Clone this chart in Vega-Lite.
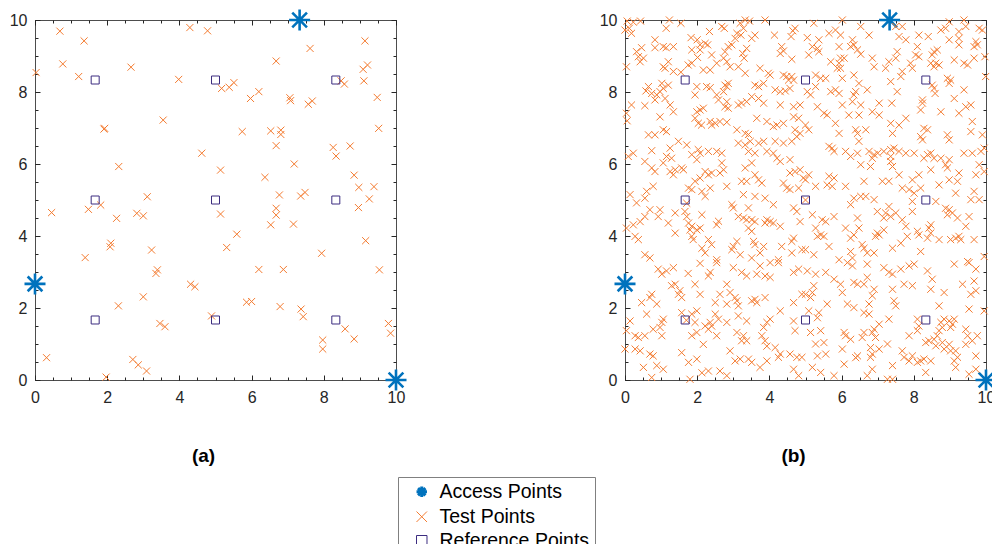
{
"$schema":"https://vega.github.io/schema/vega-lite/v6.json",
"padding":{"left":8,"top":3,"right":0,"bottom":0},
"autosize":{"type":"pad"},
"datasets":{
"access":[{"x":0,"y":2.67},{"x":7.33,"y":10},{"x":10,"y":0}],
"refs":[{"x":1.667,"y":1.667},{"x":5,"y":1.667},{"x":8.333,"y":1.667},{"x":1.667,"y":5},{"x":5,"y":5},{"x":8.333,"y":5},{"x":1.667,"y":8.333},{"x":5,"y":8.333},{"x":8.333,"y":8.333}],
"testA":[{"x":0.69,"y":9.69},{"x":1.36,"y":9.42},{"x":0.03,"y":8.54},{"x":0.77,"y":8.78},{"x":1.21,"y":8.43},{"x":2.66,"y":8.69},{"x":1.91,"y":6.97},{"x":1.93,"y":6.99},{"x":3.55,"y":7.22},{"x":2.32,"y":5.93},{"x":3.11,"y":5.09},{"x":3.98,"y":8.35},{"x":4.29,"y":9.79},{"x":4.78,"y":9.7},{"x":4.62,"y":6.3},{"x":5.14,"y":5.83},{"x":9.14,"y":9.42},{"x":7.62,"y":9.21},{"x":6.68,"y":8.86},{"x":9.09,"y":8.63},{"x":9.21,"y":8.75},{"x":9.11,"y":8.31},{"x":8.48,"y":8.31},{"x":8.57,"y":8.22},{"x":5.17,"y":8.1},{"x":5.38,"y":8.13},{"x":5.51,"y":8.26},{"x":5.97,"y":7.82},{"x":6.2,"y":8.01},{"x":7.06,"y":7.84},{"x":7.08,"y":7.76},{"x":7.57,"y":7.66},{"x":7.68,"y":7.75},{"x":9.48,"y":7.85},{"x":9.52,"y":6.99},{"x":5.74,"y":6.9},{"x":6.53,"y":6.92},{"x":6.81,"y":6.94},{"x":6.81,"y":6.82},{"x":6.68,"y":6.51},{"x":8.26,"y":6.46},{"x":8.73,"y":6.5},{"x":8.34,"y":6.22},{"x":7.18,"y":6.0},{"x":6.37,"y":5.63},{"x":8.84,"y":5.69},{"x":8.97,"y":5.35},{"x":9.39,"y":5.37},{"x":6.77,"y":5.14},{"x":7.36,"y":5.11},{"x":7.48,"y":5.21},{"x":9.26,"y":5.03},{"x":0.46,"y":4.65},{"x":1.48,"y":4.74},{"x":1.82,"y":4.86},{"x":2.26,"y":4.49},{"x":2.82,"y":4.63},{"x":3.0,"y":4.56},{"x":2.1,"y":3.8},{"x":2.08,"y":3.7},{"x":1.39,"y":3.4},{"x":3.23,"y":3.61},{"x":3.39,"y":3.06},{"x":3.35,"y":2.96},{"x":4.31,"y":2.66},{"x":4.43,"y":2.59},{"x":3.0,"y":2.31},{"x":2.31,"y":2.06},{"x":4.89,"y":1.78},{"x":3.46,"y":1.57},{"x":3.6,"y":1.48},{"x":0.32,"y":0.62},{"x":2.71,"y":0.57},{"x":2.86,"y":0.42},{"x":3.09,"y":0.25},{"x":1.97,"y":0.08},{"x":5.14,"y":4.61},{"x":6.68,"y":4.77},{"x":6.68,"y":4.58},{"x":6.53,"y":4.31},{"x":7.16,"y":4.33},{"x":8.96,"y":4.79},{"x":5.59,"y":4.05},{"x":5.31,"y":3.68},{"x":9.16,"y":3.87},{"x":7.94,"y":3.52},{"x":6.2,"y":3.07},{"x":6.88,"y":3.07},{"x":9.54,"y":3.06},{"x":5.86,"y":2.16},{"x":6.0,"y":2.18},{"x":6.79,"y":2.04},{"x":7.37,"y":1.97},{"x":7.43,"y":1.76},{"x":8.59,"y":1.42},{"x":8.84,"y":1.14},{"x":7.97,"y":1.11},{"x":7.97,"y":0.86},{"x":9.79,"y":1.57},{"x":9.85,"y":1.3}],
"testB":[{"x":0.06,"y":9.97},{"x":0.23,"y":9.94},{"x":0.12,"y":9.77},{"x":0.0,"y":9.72},{"x":0.18,"y":9.63},{"x":0.43,"y":9.97},{"x":1.23,"y":10.0},{"x":1.14,"y":9.77},{"x":1.55,"y":9.91},{"x":2.34,"y":9.68},{"x":2.68,"y":9.82},{"x":2.75,"y":9.77},{"x":3.19,"y":9.91},{"x":3.33,"y":10.0},{"x":3.45,"y":9.97},{"x":3.28,"y":9.77},{"x":3.1,"y":9.63},{"x":3.05,"y":9.49},{"x":3.21,"y":9.58},{"x":3.88,"y":10.0},{"x":4.14,"y":9.58},{"x":4.65,"y":9.7},{"x":4.71,"y":9.77},{"x":4.6,"y":9.54},{"x":0.83,"y":9.45},{"x":0.83,"y":9.23},{"x":1.06,"y":9.26},{"x":1.14,"y":9.23},{"x":1.34,"y":9.26},{"x":0.46,"y":9.23},{"x":0.32,"y":9.12},{"x":0.37,"y":8.98},{"x":0.51,"y":8.94},{"x":0.42,"y":8.84},{"x":0.04,"y":8.7},{"x":1.2,"y":8.84},{"x":1.11,"y":8.66},{"x":1.06,"y":8.7},{"x":1.83,"y":9.51},{"x":2.0,"y":9.45},{"x":2.08,"y":9.31},{"x":2.22,"y":9.35},{"x":2.29,"y":9.31},{"x":1.85,"y":9.17},{"x":2.08,"y":9.17},{"x":2.01,"y":8.96},{"x":1.85,"y":8.8},{"x":1.75,"y":8.75},{"x":2.4,"y":9.03},{"x":2.54,"y":8.8},{"x":2.36,"y":8.61},{"x":2.17,"y":8.61},{"x":2.77,"y":9.12},{"x":2.86,"y":9.26},{"x":2.96,"y":9.31},{"x":2.73,"y":8.94},{"x":2.82,"y":8.84},{"x":2.91,"y":8.7},{"x":3.14,"y":8.7},{"x":3.33,"y":8.52},{"x":3.37,"y":9.21},{"x":3.3,"y":8.94},{"x":3.26,"y":9.07},{"x":3.51,"y":9.49},{"x":3.6,"y":9.58},{"x":3.74,"y":8.66},{"x":3.97,"y":8.52},{"x":4.02,"y":8.47},{"x":4.34,"y":9.26},{"x":4.39,"y":9.14},{"x":4.3,"y":9.07},{"x":4.62,"y":8.91},{"x":4.39,"y":8.47},{"x":4.48,"y":8.43},{"x":4.62,"y":8.43},{"x":4.53,"y":8.33},{"x":4.67,"y":8.33},{"x":1.34,"y":8.57},{"x":1.55,"y":8.55},{"x":0.65,"y":8.15},{"x":0.58,"y":8.03},{"x":0.74,"y":7.96},{"x":0.88,"y":7.92},{"x":0.97,"y":8.01},{"x":1.06,"y":8.1},{"x":1.2,"y":8.19},{"x":1.02,"y":8.24},{"x":1.11,"y":7.82},{"x":0.83,"y":7.78},{"x":1.25,"y":7.64},{"x":1.34,"y":7.45},{"x":0.97,"y":7.31},{"x":0.18,"y":7.64},{"x":0.04,"y":7.41},{"x":0.06,"y":7.2},{"x":0.55,"y":7.62},{"x":1.99,"y":8.15},{"x":1.94,"y":7.92},{"x":2.26,"y":8.15},{"x":2.36,"y":8.12},{"x":2.54,"y":7.92},{"x":2.59,"y":7.78},{"x":2.77,"y":8.19},{"x":2.86,"y":8.24},{"x":2.82,"y":8.15},{"x":2.73,"y":8.01},{"x":1.99,"y":7.45},{"x":2.08,"y":7.5},{"x":2.17,"y":7.55},{"x":1.94,"y":7.27},{"x":2.03,"y":7.13},{"x":2.12,"y":7.08},{"x":2.82,"y":7.73},{"x":2.77,"y":7.59},{"x":2.86,"y":7.55},{"x":3.14,"y":7.64},{"x":3.23,"y":7.69},{"x":3.37,"y":7.73},{"x":2.36,"y":7.18},{"x":2.5,"y":7.13},{"x":2.63,"y":7.18},{"x":2.82,"y":7.16},{"x":2.4,"y":7.08},{"x":3.6,"y":8.19},{"x":3.7,"y":8.15},{"x":3.84,"y":8.24},{"x":3.51,"y":7.87},{"x":3.7,"y":7.82},{"x":3.84,"y":7.69},{"x":4.16,"y":8.06},{"x":4.3,"y":8.01},{"x":4.44,"y":8.03},{"x":4.57,"y":8.1},{"x":4.3,"y":7.64},{"x":4.67,"y":7.59},{"x":4.85,"y":7.64},{"x":3.65,"y":7.27},{"x":3.93,"y":7.18},{"x":4.11,"y":7.04},{"x":4.21,"y":7.08},{"x":4.39,"y":7.13},{"x":4.67,"y":7.31},{"x":4.81,"y":7.27},{"x":3.1,"y":6.95},{"x":3.33,"y":6.85},{"x":3.42,"y":6.82},{"x":1.06,"y":6.95},{"x":1.15,"y":6.9},{"x":0.65,"y":6.81},{"x":0.83,"y":6.81},{"x":4.71,"y":6.95},{"x":4.76,"y":6.76},{"x":4.85,"y":6.85},
{"x":5.23,"y":9.91},{"x":6.02,"y":10.0},{"x":6.53,"y":9.82},{"x":5.83,"y":9.72},{"x":5.65,"y":9.63},{"x":5.97,"y":9.58},{"x":5.05,"y":9.51},{"x":5.37,"y":9.45},{"x":6.76,"y":9.58},{"x":7.5,"y":9.82},{"x":7.68,"y":9.82},{"x":7.59,"y":9.54},{"x":7.78,"y":9.45},{"x":8.14,"y":9.58},{"x":8.4,"y":9.54},{"x":8.75,"y":9.72},{"x":8.88,"y":9.77},{"x":8.98,"y":9.95},{"x":9.25,"y":9.68},{"x":9.39,"y":10.0},{"x":9.44,"y":9.82},{"x":9.25,"y":9.49},{"x":9.25,"y":9.31},{"x":8.98,"y":9.45},{"x":9.81,"y":9.77},{"x":9.9,"y":9.72},{"x":9.72,"y":9.4},{"x":9.76,"y":9.31},{"x":9.67,"y":9.26},{"x":5.19,"y":9.26},{"x":5.33,"y":9.21},{"x":5.09,"y":9.03},{"x":5.37,"y":9.12},{"x":5.93,"y":9.26},{"x":5.97,"y":8.94},{"x":6.07,"y":8.94},{"x":5.93,"y":8.8},{"x":5.88,"y":8.66},{"x":5.97,"y":8.66},{"x":6.3,"y":9.45},{"x":6.34,"y":9.31},{"x":6.25,"y":9.26},{"x":6.44,"y":9.17},{"x":6.53,"y":9.05},{"x":5.7,"y":8.84},{"x":6.85,"y":8.94},{"x":6.9,"y":8.7},{"x":7.22,"y":8.66},{"x":7.31,"y":8.84},{"x":7.54,"y":9.12},{"x":7.5,"y":8.94},{"x":7.91,"y":8.8},{"x":7.96,"y":8.66},{"x":8.1,"y":9.26},{"x":8.05,"y":9.03},{"x":8.14,"y":8.98},{"x":8.56,"y":9.12},{"x":8.65,"y":9.17},{"x":8.51,"y":9.03},{"x":8.47,"y":8.8},{"x":8.61,"y":8.8},{"x":8.7,"y":8.75},{"x":8.56,"y":8.7},{"x":9.12,"y":8.89},{"x":9.39,"y":8.8},{"x":9.49,"y":8.75},{"x":9.67,"y":8.94},{"x":9.97,"y":8.98},{"x":5.28,"y":8.47},{"x":5.42,"y":8.38},{"x":5.56,"y":8.38},{"x":6.02,"y":8.38},{"x":6.34,"y":8.47},{"x":6.48,"y":8.24},{"x":7.68,"y":8.57},{"x":7.64,"y":8.43},{"x":7.36,"y":8.29},{"x":8.93,"y":8.38},{"x":9.02,"y":8.33},{"x":8.98,"y":8.24},{"x":8.51,"y":8.19},{"x":8.56,"y":8.1},{"x":8.59,"y":7.96},{"x":9.99,"y":8.43},{"x":5.05,"y":8.01},{"x":5.14,"y":7.92},{"x":5.28,"y":8.15},{"x":5.7,"y":8.01},{"x":5.83,"y":8.06},{"x":5.93,"y":7.96},{"x":6.34,"y":7.92},{"x":6.39,"y":8.01},{"x":6.71,"y":8.06},{"x":7.54,"y":8.01},{"x":5.33,"y":7.59},{"x":5.51,"y":7.41},{"x":5.6,"y":7.36},{"x":6.02,"y":7.64},{"x":6.3,"y":7.73},{"x":6.53,"y":7.64},{"x":6.2,"y":7.36},{"x":6.48,"y":7.36},{"x":6.85,"y":7.45},{"x":7.04,"y":7.36},{"x":7.04,"y":7.69},{"x":7.39,"y":7.69},{"x":5.83,"y":7.13},{"x":5.0,"y":7.08},{"x":5.09,"y":6.95},{"x":6.39,"y":6.95},{"x":6.44,"y":6.85},{"x":6.67,"y":6.95},{"x":7.36,"y":7.13},{"x":7.59,"y":7.08},{"x":7.78,"y":7.27},{"x":7.41,"y":6.85},{"x":8.24,"y":7.78},{"x":8.24,"y":7.69},{"x":8.19,"y":7.5},{"x":8.75,"y":7.45},{"x":9.12,"y":7.82},{"x":9.44,"y":7.59},{"x":9.58,"y":7.64},{"x":9.25,"y":7.41},{"x":9.39,"y":8.06},{"x":9.62,"y":7.18},{"x":9.58,"y":6.9},{"x":8.28,"y":6.99},{"x":8.38,"y":6.95},{"x":8.19,"y":6.76},{"x":8.93,"y":6.81},{"x":9.9,"y":6.81},{"x":5.93,"y":6.85},
{"x":0.23,"y":6.3},{"x":0.09,"y":6.21},{"x":0.74,"y":6.37},{"x":1.25,"y":6.44},{"x":1.48,"y":6.63},{"x":1.71,"y":6.53},{"x":1.85,"y":6.26},{"x":2.03,"y":6.4},{"x":2.08,"y":6.3},{"x":1.99,"y":6.12},{"x":2.31,"y":6.35},{"x":2.54,"y":6.35},{"x":2.68,"y":6.3},{"x":0.55,"y":6.07},{"x":0.74,"y":5.89},{"x":0.83,"y":5.79},{"x":1.06,"y":6.03},{"x":1.15,"y":6.21},{"x":1.29,"y":6.16},{"x":1.25,"y":5.79},{"x":1.39,"y":5.84},{"x":1.57,"y":5.89},{"x":1.62,"y":5.84},{"x":1.34,"y":5.7},{"x":2.68,"y":6.03},{"x":2.73,"y":5.84},{"x":2.63,"y":5.75},{"x":2.22,"y":5.79},{"x":2.31,"y":5.7},{"x":2.4,"y":5.75},{"x":2.08,"y":5.61},{"x":1.94,"y":5.52},{"x":3.14,"y":6.58},{"x":3.33,"y":6.53},{"x":3.47,"y":6.63},{"x":3.7,"y":6.58},{"x":3.84,"y":6.63},{"x":3.42,"y":6.35},{"x":3.6,"y":6.3},{"x":3.93,"y":6.35},{"x":4.11,"y":6.3},{"x":4.16,"y":6.63},{"x":4.39,"y":6.58},{"x":4.62,"y":6.63},{"x":4.21,"y":6.16},{"x":4.3,"y":6.07},{"x":4.57,"y":6.12},{"x":3.51,"y":6.03},{"x":3.33,"y":5.89},{"x":4.71,"y":5.79},{"x":4.57,"y":5.75},{"x":4.85,"y":5.84},{"x":4.94,"y":5.61},{"x":3.6,"y":5.7},{"x":3.7,"y":5.56},{"x":3.37,"y":5.52},{"x":3.23,"y":5.52},{"x":3.79,"y":5.47},{"x":4.39,"y":5.47},{"x":4.48,"y":5.33},{"x":4.57,"y":5.29},{"x":4.81,"y":5.33},{"x":2.82,"y":5.38},{"x":2.36,"y":5.33},{"x":2.13,"y":5.24},{"x":1.85,"y":5.29},{"x":1.76,"y":5.33},{"x":0.78,"y":5.38},{"x":0.6,"y":5.24},{"x":0.55,"y":5.05},{"x":0.14,"y":5.15},{"x":0.32,"y":4.92},{"x":2.22,"y":5.1},{"x":1.71,"y":4.91},{"x":2.96,"y":4.87},{"x":3.0,"y":4.78},{"x":3.42,"y":4.78},{"x":3.28,"y":5.15},{"x":3.6,"y":5.1},{"x":3.88,"y":5.05},{"x":4.11,"y":4.87},{"x":4.67,"y":4.78},{"x":4.76,"y":4.68},{"x":0.69,"y":4.73},{"x":0.97,"y":4.73},{"x":0.92,"y":4.54},{"x":1.39,"y":4.64},{"x":1.66,"y":4.68},{"x":1.71,"y":4.54},{"x":1.76,"y":4.36},{"x":2.13,"y":4.59},{"x":3.14,"y":4.54},{"x":3.28,"y":4.5},{"x":3.37,"y":4.45},{"x":3.51,"y":4.45},{"x":3.6,"y":4.4},{"x":3.93,"y":4.45},{"x":4.02,"y":4.4},{"x":4.11,"y":4.36},{"x":3.88,"y":4.36},{"x":3.42,"y":4.22},{"x":3.51,"y":4.13},{"x":4.3,"y":4.27},{"x":0.55,"y":4.54},{"x":0.42,"y":4.4},{"x":0.23,"y":4.31},{"x":0.04,"y":4.22},{"x":1.2,"y":4.36},{"x":1.85,"y":4.27},{"x":1.8,"y":4.17},{"x":1.99,"y":4.17},{"x":2.08,"y":4.22},{"x":2.59,"y":4.41},{"x":2.54,"y":4.31},{"x":4.85,"y":4.4},{"x":1.39,"y":4.08},{"x":0.28,"y":3.99},{"x":0.37,"y":3.9},{"x":1.85,"y":3.99},{"x":1.89,"y":3.9},{"x":2.31,"y":3.9},{"x":2.4,"y":3.76},{"x":3.0,"y":3.71},{"x":3.1,"y":3.85},{"x":2.96,"y":3.62},{"x":3.56,"y":3.85},{"x":3.6,"y":3.76},{"x":3.84,"y":3.71},{"x":4.34,"y":3.71},{"x":4.62,"y":3.85},{"x":4.67,"y":3.94},{"x":2.13,"y":3.66},{"x":2.22,"y":3.53},{"x":0.55,"y":3.48},{"x":0.69,"y":3.39},{"x":2.54,"y":3.34},{"x":3.19,"y":3.48},{"x":3.51,"y":3.39},{"x":3.74,"y":3.53},{"x":4.25,"y":3.34},{"x":4.62,"y":3.53},{"x":4.9,"y":3.62},
{"x":5.65,"y":6.49},{"x":5.74,"y":6.44},{"x":5.79,"y":6.35},{"x":6.48,"y":6.63},{"x":6.11,"y":6.35},{"x":6.25,"y":6.21},{"x":6.44,"y":6.3},{"x":6.76,"y":6.35},{"x":6.9,"y":6.26},{"x":7.0,"y":6.3},{"x":6.85,"y":6.16},{"x":7.17,"y":6.35},{"x":7.36,"y":6.4},{"x":7.45,"y":6.44},{"x":7.59,"y":6.35},{"x":7.78,"y":6.3},{"x":7.36,"y":6.21},{"x":6.53,"y":5.98},{"x":6.8,"y":5.93},{"x":7.36,"y":6.07},{"x":7.41,"y":5.93},{"x":8.01,"y":6.3},{"x":8.38,"y":6.26},{"x":8.47,"y":6.3},{"x":8.56,"y":6.16},{"x":8.28,"y":6.16},{"x":8.75,"y":6.16},{"x":8.98,"y":6.12},{"x":8.88,"y":5.98},{"x":8.93,"y":5.89},{"x":8.24,"y":6.67},{"x":8.98,"y":6.67},{"x":8.47,"y":5.84},{"x":9.39,"y":6.3},{"x":9.62,"y":6.3},{"x":9.86,"y":6.35},{"x":9.95,"y":6.44},{"x":9.81,"y":5.98},{"x":9.95,"y":5.79},{"x":9.72,"y":5.7},{"x":9.25,"y":5.75},{"x":9.21,"y":5.52},{"x":5.09,"y":5.7},{"x":5.0,"y":5.56},{"x":5.28,"y":5.38},{"x":5.65,"y":5.66},{"x":5.79,"y":5.61},{"x":5.74,"y":5.38},{"x":5.6,"y":5.42},{"x":6.11,"y":5.38},{"x":6.62,"y":5.52},{"x":7.13,"y":5.52},{"x":7.31,"y":5.52},{"x":7.59,"y":5.7},{"x":7.96,"y":5.56},{"x":8.14,"y":5.7},{"x":7.68,"y":5.33},{"x":7.87,"y":5.29},{"x":8.01,"y":5.19},{"x":8.19,"y":5.33},{"x":8.7,"y":5.42},{"x":8.98,"y":5.56},{"x":9.16,"y":5.19},{"x":9.67,"y":5.24},{"x":9.58,"y":5.01},{"x":9.81,"y":5.01},{"x":6.34,"y":5.05},{"x":6.53,"y":5.1},{"x":6.67,"y":5.1},{"x":6.9,"y":5.01},{"x":6.25,"y":4.87},{"x":8.61,"y":4.96},{"x":7.96,"y":4.96},{"x":5.19,"y":4.59},{"x":5.46,"y":4.45},{"x":5.56,"y":4.4},{"x":5.79,"y":4.54},{"x":5.28,"y":4.22},{"x":5.42,"y":4.03},{"x":5.33,"y":3.99},{"x":5.51,"y":3.99},{"x":6.44,"y":4.5},{"x":6.48,"y":4.22},{"x":6.11,"y":4.22},{"x":6.34,"y":4.03},{"x":6.25,"y":3.94},{"x":6.99,"y":4.68},{"x":7.22,"y":4.64},{"x":7.31,"y":4.82},{"x":7.36,"y":4.54},{"x":7.17,"y":4.5},{"x":7.5,"y":4.64},{"x":7.68,"y":4.45},{"x":7.78,"y":4.27},{"x":7.17,"y":4.17},{"x":6.99,"y":4.08},{"x":7.04,"y":4.03},{"x":6.94,"y":3.99},{"x":8.1,"y":4.13},{"x":8.14,"y":4.03},{"x":7.82,"y":3.99},{"x":7.96,"y":4.68},{"x":8.47,"y":4.31},{"x":8.42,"y":4.22},{"x":8.47,"y":4.08},{"x":8.38,"y":3.94},{"x":8.88,"y":4.77},{"x":8.98,"y":4.73},{"x":9.07,"y":4.64},{"x":8.93,"y":4.59},{"x":9.21,"y":4.5},{"x":9.53,"y":4.54},{"x":9.44,"y":4.27},{"x":8.7,"y":3.9},{"x":9.02,"y":3.9},{"x":9.16,"y":3.94},{"x":9.25,"y":3.99},{"x":9.3,"y":3.9},{"x":9.67,"y":3.9},{"x":5.0,"y":3.62},{"x":5.65,"y":3.71},{"x":5.23,"y":3.48},{"x":6.25,"y":3.57},{"x":6.57,"y":3.76},{"x":6.62,"y":3.66},{"x":6.71,"y":3.53},{"x":6.9,"y":3.53},{"x":7.41,"y":3.66},{"x":7.64,"y":3.8},{"x":8.19,"y":3.57},{"x":5.93,"y":3.34},{"x":6.3,"y":3.39},{"x":9.95,"y":3.43},{"x":9.49,"y":3.29},
{"x":2.54,"y":3.26},{"x":2.08,"y":3.24},{"x":0.92,"y":3.08},{"x":1.02,"y":2.94},{"x":1.15,"y":3.03},{"x":1.34,"y":3.12},{"x":1.75,"y":2.96},{"x":2.36,"y":2.99},{"x":2.31,"y":2.89},{"x":1.94,"y":2.66},{"x":2.08,"y":2.38},{"x":1.29,"y":2.62},{"x":1.39,"y":2.66},{"x":1.52,"y":2.48},{"x":1.48,"y":2.38},{"x":1.57,"y":2.29},{"x":0.74,"y":2.38},{"x":0.69,"y":2.29},{"x":0.46,"y":2.15},{"x":0.88,"y":2.11},{"x":2.82,"y":2.66},{"x":2.63,"y":2.38},{"x":2.5,"y":2.15},{"x":2.82,"y":2.11},{"x":3.0,"y":3.12},{"x":3.23,"y":2.99},{"x":3.37,"y":2.89},{"x":3.74,"y":3.17},{"x":4.02,"y":3.26},{"x":4.25,"y":3.26},{"x":3.65,"y":2.94},{"x":3.88,"y":2.89},{"x":4.02,"y":2.85},{"x":2.91,"y":2.43},{"x":3.05,"y":2.29},{"x":3.1,"y":2.2},{"x":3.14,"y":2.06},{"x":3.51,"y":2.2},{"x":3.6,"y":2.24},{"x":3.65,"y":2.15},{"x":3.88,"y":2.29},{"x":4.3,"y":1.92},{"x":4.67,"y":2.99},{"x":4.81,"y":3.08},{"x":4.67,"y":2.15},{"x":4.9,"y":2.38},{"x":0.6,"y":1.83},{"x":0.14,"y":1.64},{"x":0.04,"y":1.37},{"x":0.28,"y":1.23},{"x":0.37,"y":1.18},{"x":0.55,"y":1.23},{"x":0.78,"y":1.41},{"x":1.02,"y":1.23},{"x":0.97,"y":1.46},{"x":1.02,"y":1.6},{"x":1.06,"y":1.69},{"x":1.57,"y":1.87},{"x":1.85,"y":1.83},{"x":1.99,"y":1.92},{"x":1.94,"y":1.6},{"x":1.85,"y":1.23},{"x":1.99,"y":1.32},{"x":2.22,"y":1.5},{"x":2.31,"y":1.41},{"x":2.4,"y":1.5},{"x":2.36,"y":1.6},{"x":2.54,"y":1.23},{"x":2.17,"y":0.99},{"x":2.5,"y":1.83},{"x":2.59,"y":1.69},{"x":2.82,"y":1.6},{"x":3.14,"y":1.78},{"x":3.37,"y":1.64},{"x":3.1,"y":1.32},{"x":3.28,"y":1.23},{"x":3.23,"y":1.09},{"x":3.37,"y":1.09},{"x":3.84,"y":1.46},{"x":3.93,"y":1.6},{"x":4.02,"y":1.69},{"x":3.79,"y":1.23},{"x":3.88,"y":1.09},{"x":3.93,"y":0.94},{"x":4.16,"y":0.9},{"x":4.67,"y":1.64},{"x":4.71,"y":1.37},{"x":4.3,"y":0.72},{"x":4.25,"y":0.63},{"x":4.57,"y":0.72},{"x":4.76,"y":0.63},{"x":4.9,"y":0.63},{"x":0.0,"y":0.86},{"x":0.28,"y":0.86},{"x":0.42,"y":0.81},{"x":0.69,"y":0.72},{"x":0.78,"y":0.67},{"x":1.57,"y":0.76},{"x":1.99,"y":0.58},{"x":1.76,"y":0.49},{"x":0.51,"y":0.35},{"x":0.88,"y":0.4},{"x":1.06,"y":0.3},{"x":2.91,"y":0.81},{"x":3.05,"y":0.53},{"x":3.19,"y":0.58},{"x":2.63,"y":0.25},{"x":2.31,"y":0.25},{"x":2.13,"y":0.2},{"x":2.82,"y":0.12},{"x":3.42,"y":0.58},{"x":3.51,"y":0.49},{"x":3.74,"y":0.35},{"x":3.93,"y":0.53},{"x":1.8,"y":0.02},{"x":0.74,"y":0.07},{"x":4.67,"y":0.3},{"x":4.81,"y":0.12},{"x":1.7,"y":1.66},{"x":5.0,"y":5.0},
{"x":5.05,"y":3.03},{"x":5.28,"y":2.94},{"x":5.23,"y":2.62},{"x":5.19,"y":2.43},{"x":5.0,"y":2.38},{"x":5.14,"y":2.29},{"x":5.56,"y":2.99},{"x":5.79,"y":2.8},{"x":5.97,"y":2.66},{"x":6.02,"y":2.43},{"x":6.16,"y":3.26},{"x":6.3,"y":3.17},{"x":6.71,"y":3.22},{"x":6.34,"y":2.71},{"x":6.44,"y":2.66},{"x":6.62,"y":2.66},{"x":6.71,"y":2.85},{"x":6.9,"y":2.52},{"x":6.85,"y":2.34},{"x":6.76,"y":2.11},{"x":7.17,"y":3.12},{"x":7.31,"y":2.99},{"x":7.41,"y":2.94},{"x":7.64,"y":3.08},{"x":7.87,"y":3.17},{"x":8.01,"y":3.22},{"x":7.41,"y":2.52},{"x":7.45,"y":2.2},{"x":7.5,"y":2.06},{"x":7.73,"y":2.66},{"x":7.96,"y":2.62},{"x":8.38,"y":3.03},{"x":8.51,"y":2.8},{"x":8.47,"y":2.52},{"x":8.84,"y":2.43},{"x":9.12,"y":3.22},{"x":9.53,"y":3.26},{"x":9.72,"y":3.08},{"x":9.35,"y":2.66},{"x":9.67,"y":2.75},{"x":9.58,"y":2.38},{"x":9.72,"y":2.48},{"x":8.7,"y":2.06},{"x":9.53,"y":1.97},{"x":9.95,"y":1.92},{"x":5.09,"y":1.92},{"x":5.37,"y":1.87},{"x":5.33,"y":1.73},{"x":5.6,"y":2.11},{"x":6.16,"y":2.11},{"x":6.34,"y":2.01},{"x":6.62,"y":1.87},{"x":6.76,"y":1.83},{"x":7.04,"y":1.55},{"x":7.31,"y":1.69},{"x":5.42,"y":1.37},{"x":5.14,"y":1.32},{"x":6.07,"y":1.32},{"x":6.11,"y":1.23},{"x":6.25,"y":1.13},{"x":6.62,"y":1.32},{"x":6.57,"y":1.18},{"x":6.85,"y":1.32},{"x":6.94,"y":1.18},{"x":6.9,"y":1.41},{"x":7.04,"y":0.86},{"x":6.8,"y":0.9},{"x":6.85,"y":0.72},{"x":6.8,"y":0.63},{"x":7.27,"y":1.0},{"x":6.44,"y":0.67},{"x":6.39,"y":0.62},{"x":6.02,"y":0.86},{"x":5.28,"y":1.0},{"x":5.51,"y":1.04},{"x":5.33,"y":0.67},{"x":5.56,"y":0.72},{"x":5.19,"y":0.35},{"x":5.42,"y":0.21},{"x":5.79,"y":0.12},{"x":6.07,"y":0.44},{"x":6.85,"y":0.3},{"x":6.71,"y":0.12},{"x":7.41,"y":0.4},{"x":7.27,"y":0.02},{"x":7.41,"y":0.02},{"x":7.68,"y":0.81},{"x":7.73,"y":0.63},{"x":7.87,"y":0.53},{"x":7.96,"y":0.67},{"x":8.1,"y":0.49},{"x":8.19,"y":0.53},{"x":8.28,"y":0.58},{"x":8.47,"y":0.53},{"x":7.87,"y":1.23},{"x":8.1,"y":1.37},{"x":8.14,"y":1.5},{"x":8.1,"y":1.69},{"x":8.33,"y":1.04},{"x":8.42,"y":1.09},{"x":8.56,"y":1.13},{"x":8.65,"y":1.23},{"x":8.7,"y":1.37},{"x":8.79,"y":1.46},{"x":8.75,"y":1.6},{"x":8.84,"y":1.69},{"x":8.98,"y":1.64},{"x":9.12,"y":1.69},{"x":9.07,"y":1.55},{"x":9.02,"y":1.46},{"x":8.79,"y":1.04},{"x":8.84,"y":0.86},{"x":8.98,"y":0.99},{"x":9.02,"y":0.81},{"x":8.61,"y":0.95},{"x":9.16,"y":0.81},{"x":9.21,"y":0.63},{"x":9.12,"y":0.53},{"x":9.44,"y":1.41},{"x":9.49,"y":1.23},{"x":9.62,"y":1.09},{"x":9.76,"y":1.23},{"x":9.44,"y":0.99},{"x":9.72,"y":0.67},{"x":9.16,"y":0.35},{"x":9.53,"y":0.16},{"x":9.72,"y":0.3},{"x":8.33,"y":0.21}]
},
"hconcat":[
{"width":361,"height":360,
"layer":[
{"data":{"name":"access"},"mark":{"type":"point","size":441,"strokeWidth":2.6,"opacity":1,"filled":false},
"encoding":{
"x":{"field":"x","type":"quantitative","scale":{"domain":[0,10],"nice":false,"zero":false},"axis":{"orient":"bottom","values":[0,2,4,6,8,10],"tickSize":-5,"labelPadding":14,"format":"d","labelFlush":false,"labelOverlap":false,"title":"(a)","titleFontWeight":"bold","titleFontSize":19,"titleColor":"#000000","titlePadding":41,"titleX":168}},
"y":{"field":"y","type":"quantitative","scale":{"domain":[0,10],"nice":false,"zero":false},"axis":{"orient":"left","values":[0,2,4,6,8,10],"tickSize":-5,"labelPadding":13,"format":"d","labelFlush":false,"labelOverlap":false,"title":null}},
"color":{"datum":"Access Points","type":"nominal","scale":{"domain":["Access Points","Test Points","Reference Points"],"range":["#0072BD","#f47b30","#3c2d80"]},
"legend":{"orient":"none","legendX":363,"legendY":457,"title":null,"direction":"vertical","strokeColor":"#808080","fillColor":"#ffffff","padding":5,"labelFont":"Liberation Sans","labelFontSize":19.5,"labelColor":"#000000","labelOffset":8,"rowPadding":3,"symbolSize":110,"symbolOffset":9,"symbolStrokeWidth":{"expr":"datum.value === 'Access Points' ? 3 : 1"},"symbolOpacity":1}},
"shape":{"datum":"Access Points","type":"nominal","scale":{"domain":["Access Points","Test Points","Reference Points"],"range":["M0,-1L0,1M-1,0L1,0M-0.7,-0.7L0.7,0.7M-0.7,0.7L0.7,-0.7","M-1,-1L1,1M-1,1L1,-1","square"]},"legend":null}
}},
{"data":{"name":"testA"},"mark":{"type":"point","size":50,"strokeWidth":1,"opacity":1,"filled":false},
"encoding":{
"x":{"field":"x","type":"quantitative","axis":{"orient":"top","values":[0,2,4,6,8,10],"tickSize":-5,"labels":false,"title":null}},
"y":{"field":"y","type":"quantitative","axis":{"orient":"right","values":[0,2,4,6,8,10],"tickSize":-5,"labels":false,"title":null}},
"color":{"datum":"Test Points","type":"nominal"},
"shape":{"datum":"Test Points","type":"nominal","legend":null}
}},
{"data":{"name":"refs"},"mark":{"type":"point","size":64,"strokeWidth":1,"opacity":1,"filled":false},
"encoding":{
"x":{"field":"x","type":"quantitative","axis":{"orient":"bottom","values":[0,0.5,1,1.5,2,2.5,3,3.5,4,4.5,5,5.5,6,6.5,7,7.5,8,8.5,9,9.5,10],"tickSize":-3,"labels":false,"title":null}},
"y":{"field":"y","type":"quantitative","axis":{"orient":"left","values":[0,0.5,1,1.5,2,2.5,3,3.5,4,4.5,5,5.5,6,6.5,7,7.5,8,8.5,9,9.5,10],"tickSize":-3,"labels":false,"title":null}},
"color":{"datum":"Reference Points","type":"nominal"},
"shape":{"datum":"Reference Points","type":"nominal","legend":null}
}},
{"data":{"name":"refs"},"mark":{"type":"point","size":1,"opacity":0},
"encoding":{
"x":{"field":"x","type":"quantitative","axis":{"orient":"top","values":[0,0.5,1,1.5,2,2.5,3,3.5,4,4.5,5,5.5,6,6.5,7,7.5,8,8.5,9,9.5,10],"tickSize":-3,"labels":false,"title":null}},
"y":{"field":"y","type":"quantitative","axis":{"orient":"right","values":[0,0.5,1,1.5,2,2.5,3,3.5,4,4.5,5,5.5,6,6.5,7,7.5,8,8.5,9,9.5,10],"tickSize":-3,"labels":false,"title":null}}
}}
],
"resolve":{"axis":{"x":"independent","y":"independent"}}
},
{"width":361,"height":360,
"layer":[
{"data":{"name":"access"},"mark":{"type":"point","size":441,"strokeWidth":2.6,"opacity":1,"filled":false},
"encoding":{
"x":{"field":"x","type":"quantitative","scale":{"domain":[0,10],"nice":false,"zero":false},"axis":{"orient":"bottom","values":[0,2,4,6,8,10],"tickSize":-5,"labelPadding":14,"format":"d","labelFlush":false,"labelOverlap":false,"title":"(b)","titleFontWeight":"bold","titleFontSize":19,"titleColor":"#000000","titlePadding":41,"titleX":168}},
"y":{"field":"y","type":"quantitative","scale":{"domain":[0,10],"nice":false,"zero":false},"axis":{"orient":"left","values":[0,2,4,6,8,10],"tickSize":-5,"labelPadding":13,"format":"d","labelFlush":false,"labelOverlap":false,"title":null}},
"color":{"datum":"Access Points","type":"nominal"},
"shape":{"datum":"Access Points","type":"nominal","legend":null}
}},
{"data":{"name":"testB"},"mark":{"type":"point","size":50,"strokeWidth":1,"opacity":1,"filled":false},
"encoding":{
"x":{"field":"x","type":"quantitative","axis":{"orient":"top","values":[0,2,4,6,8,10],"tickSize":-5,"labels":false,"title":null}},
"y":{"field":"y","type":"quantitative","axis":{"orient":"right","values":[0,2,4,6,8,10],"tickSize":-5,"labels":false,"title":null}},
"color":{"datum":"Test Points","type":"nominal"},
"shape":{"datum":"Test Points","type":"nominal","legend":null}
}},
{"data":{"name":"refs"},"mark":{"type":"point","size":64,"strokeWidth":1,"opacity":1,"filled":false},
"encoding":{
"x":{"field":"x","type":"quantitative","axis":{"orient":"bottom","values":[0,0.5,1,1.5,2,2.5,3,3.5,4,4.5,5,5.5,6,6.5,7,7.5,8,8.5,9,9.5,10],"tickSize":-3,"labels":false,"title":null}},
"y":{"field":"y","type":"quantitative","axis":{"orient":"left","values":[0,0.5,1,1.5,2,2.5,3,3.5,4,4.5,5,5.5,6,6.5,7,7.5,8,8.5,9,9.5,10],"tickSize":-3,"labels":false,"title":null}},
"color":{"datum":"Reference Points","type":"nominal"},
"shape":{"datum":"Reference Points","type":"nominal","legend":null}
}},
{"data":{"name":"refs"},"mark":{"type":"point","size":1,"opacity":0},
"encoding":{
"x":{"field":"x","type":"quantitative","axis":{"orient":"top","values":[0,0.5,1,1.5,2,2.5,3,3.5,4,4.5,5,5.5,6,6.5,7,7.5,8,8.5,9,9.5,10],"tickSize":-3,"labels":false,"title":null}},
"y":{"field":"y","type":"quantitative","axis":{"orient":"right","values":[0,0.5,1,1.5,2,2.5,3,3.5,4,4.5,5,5.5,6,6.5,7,7.5,8,8.5,9,9.5,10],"tickSize":-3,"labels":false,"title":null}}
}}
],
"resolve":{"axis":{"x":"independent","y":"independent"}}
}
],
"spacing":185,
"config":{
"font":"Liberation Sans",
"view":{"stroke":"#4d4d4d","strokeWidth":1},
"axis":{"labelFont":"Liberation Sans","labelFontSize":16,"labelColor":"#262626","tickColor":"#262626","tickWidth":1,"domain":false,"grid":false,"titleFont":"Liberation Sans"}
}
}
